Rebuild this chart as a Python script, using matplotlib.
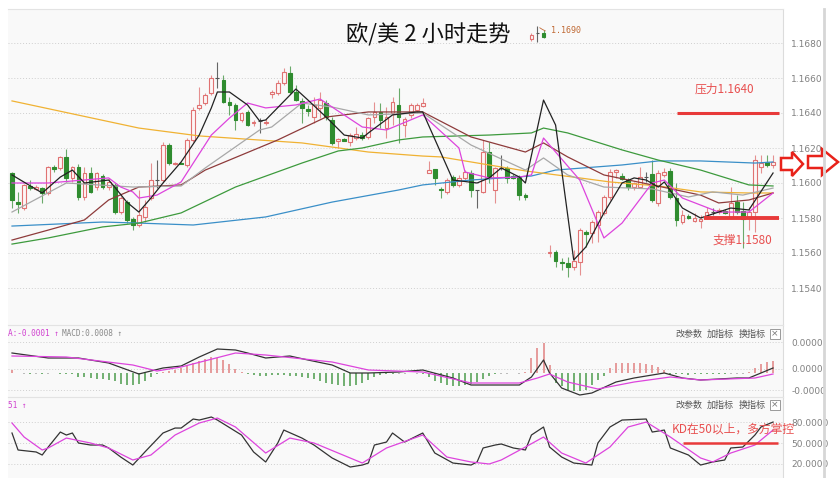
import numpy as np
import matplotlib
matplotlib.use("Agg")
import matplotlib.pyplot as plt
from matplotlib.patches import Polygon, Rectangle
from matplotlib.lines import Line2D

plt.rcParams['font.family'] = ['Noto Sans CJK SC', 'DejaVu Sans']

# ---- 2h EUR/USD candles (bar 0 .. 126) ----
opens = [1.16057, 1.15891, 1.15857, 1.15983, 1.15966, 1.15971, 1.15943, 1.16091, 1.16086, 1.16149,
         1.16029, 1.16091, 1.15920, 1.16057, 1.15977, 1.16040, 1.15977, 1.15989, 1.15834, 1.15891,
         1.15794, 1.15760, 1.15806, 1.15914, 1.16017, 1.16017, 1.16217, 1.16109, 1.16114, 1.16103,
         1.16246, 1.16429, 1.16457, 1.16514, 1.16600, 1.16589, 1.16463, 1.16446, 1.16360, 1.16406,
         1.16343, 1.16354, 1.16343, 1.16509, 1.16514, 1.16571, 1.16629, 1.16520, 1.16469, 1.16423,
         1.16377, 1.16429, 1.16457, 1.16360, 1.16240, 1.16251, 1.16234, 1.16257, 1.16274, 1.16263,
         1.16377, 1.16406, 1.16314, 1.16400, 1.16446, 1.16331, 1.16389, 1.16417, 1.16440, 1.16057,
         1.16080, 1.15966, 1.15949, 1.16034, 1.15989, 1.16029, 1.16057, 1.15960, 1.15949, 1.16177,
         1.15960, 1.16086, 1.16086, 1.16040, 1.16034, 1.15931, 1.16823, 1.16857, 1.16857, 1.15600,
         1.15606, 1.15549, 1.15543, 1.15520, 1.15549, 1.15720, 1.15714, 1.15760, 1.15829, 1.15920,
         1.16063, 1.16040, 1.16017, 1.15977, 1.15977, 1.16034, 1.16051, 1.15886, 1.16046, 1.16069,
         1.15914, 1.15777, 1.15811, 1.15783, 1.15783, 1.15806, 1.15834, 1.15834, 1.15840, 1.15806,
         1.15891, 1.15840, 1.15800, 1.15834, 1.16091, 1.16120, 1.16103]
highs = [1.16063, 1.15949, 1.15994, 1.16017, 1.15989, 1.15977, 1.16097, 1.16103, 1.16154, 1.16194,
         1.16097, 1.16109, 1.16091, 1.16091, 1.16063, 1.16051, 1.16029, 1.16000, 1.15926, 1.15903,
         1.15806, 1.15960, 1.15903, 1.16114, 1.16131, 1.16234, 1.16229, 1.16120, 1.16120, 1.16257,
         1.16434, 1.16549, 1.16514, 1.16617, 1.16691, 1.16617, 1.16491, 1.16457, 1.16406, 1.16417,
         1.16360, 1.16371, 1.16366, 1.16531, 1.16589, 1.16657, 1.16669, 1.16560, 1.16486, 1.16446,
         1.16491, 1.16520, 1.16474, 1.16377, 1.16257, 1.16257, 1.16286, 1.16320, 1.16291, 1.16377,
         1.16463, 1.16457, 1.16434, 1.16491, 1.16543, 1.16377, 1.16457, 1.16457, 1.16486, 1.16126,
         1.16080, 1.15977, 1.16029, 1.16046, 1.16046, 1.16074, 1.16074, 1.15960, 1.16246, 1.16234,
         1.16091, 1.16160, 1.16097, 1.16051, 1.16046, 1.15943, 1.16857, 1.16897, 1.16874, 1.15646,
         1.15617, 1.15571, 1.15577, 1.15617, 1.15743, 1.15731, 1.15789, 1.15846, 1.15931, 1.16080,
         1.16080, 1.16057, 1.16029, 1.16006, 1.16091, 1.16063, 1.16131, 1.16074, 1.16086, 1.16086,
         1.16000, 1.15846, 1.15823, 1.15829, 1.15817, 1.15863, 1.15857, 1.15857, 1.15851, 1.15977,
         1.15931, 1.15891, 1.15863, 1.16160, 1.16160, 1.16160, 1.16160]
lows = [1.15857, 1.15829, 1.15846, 1.15960, 1.15960, 1.15886, 1.15931, 1.16063, 1.16074, 1.16006,
        1.16006, 1.15903, 1.15903, 1.15943, 1.15960, 1.15966, 1.15960, 1.15823, 1.15823, 1.15771,
        1.15731, 1.15749, 1.15777, 1.15903, 1.15971, 1.16006, 1.16103, 1.16103, 1.16109, 1.16091,
        1.16234, 1.16417, 1.16446, 1.16503, 1.16543, 1.16457, 1.16389, 1.16303, 1.16349, 1.16326,
        1.16326, 1.16286, 1.16331, 1.16486, 1.16503, 1.16560, 1.16509, 1.16469, 1.16343, 1.16383,
        1.16343, 1.16371, 1.16360, 1.16217, 1.16200, 1.16240, 1.16211, 1.16246, 1.16246, 1.16251,
        1.16343, 1.16314, 1.16257, 1.16331, 1.16229, 1.16263, 1.16371, 1.16406, 1.16434, 1.16057,
        1.15989, 1.15914, 1.15937, 1.15977, 1.15977, 1.16017, 1.15920, 1.15857, 1.15943, 1.16000,
        1.15886, 1.16074, 1.16000, 1.16023, 1.15903, 1.15903, 1.16811, 1.16806, 1.16829, 1.15577,
        1.15520, 1.15503, 1.15463, 1.15503, 1.15474, 1.15634, 1.15657, 1.15663, 1.15817, 1.15903,
        1.16029, 1.16017, 1.15960, 1.15960, 1.15971, 1.16006, 1.15891, 1.15869, 1.16034, 1.15909,
        1.15754, 1.15766, 1.15794, 1.15777, 1.15743, 1.15794, 1.15817, 1.15823, 1.15823, 1.15794,
        1.15823, 1.15629, 1.15731, 1.15720, 1.16057, 1.16091, 1.16086]
closes = [1.15903, 1.15880, 1.15989, 1.15971, 1.15977, 1.15943, 1.16091, 1.16080, 1.16149, 1.16029,
          1.16091, 1.15920, 1.16057, 1.15949, 1.16057, 1.15977, 1.16006, 1.15834, 1.15914, 1.15789,
          1.15760, 1.15817, 1.15863, 1.16017, 1.16017, 1.16217, 1.16114, 1.16114, 1.16109, 1.16246,
          1.16417, 1.16446, 1.16503, 1.16600, 1.16600, 1.16463, 1.16446, 1.16360, 1.16400, 1.16331,
          1.16349, 1.16354, 1.16349, 1.16520, 1.16571, 1.16634, 1.16520, 1.16474, 1.16429, 1.16411,
          1.16446, 1.16474, 1.16377, 1.16229, 1.16251, 1.16240, 1.16274, 1.16280, 1.16257, 1.16371,
          1.16406, 1.16360, 1.16377, 1.16463, 1.16377, 1.16366, 1.16446, 1.16446, 1.16457, 1.16074,
          1.16029, 1.15960, 1.16017, 1.15989, 1.16029, 1.16063, 1.15960, 1.15960, 1.16177, 1.16029,
          1.16086, 1.16086, 1.16029, 1.16029, 1.15931, 1.15920, 1.16846, 1.16857, 1.16834, 1.15606,
          1.15554, 1.15543, 1.15520, 1.15554, 1.15731, 1.15709, 1.15777, 1.15834, 1.15920, 1.16063,
          1.16074, 1.16023, 1.15977, 1.16000, 1.16034, 1.16034, 1.15903, 1.16057, 1.16063, 1.15920,
          1.15789, 1.15817, 1.15800, 1.15800, 1.15794, 1.15834, 1.15834, 1.15846, 1.15829, 1.15886,
          1.15834, 1.15794, 1.15834, 1.16131, 1.16114, 1.16103, 1.16120]

# ---- moving averages, read at selected bars ----
ma5_bar = [0, 5, 8, 10, 12, 16, 17, 19, 21, 23, 25, 28, 31, 33, 34, 36, 39, 41, 42, 47,
           49, 52, 55, 58, 59, 63, 67, 68, 73, 77, 79, 81, 84, 85, 88, 90, 93, 95, 98, 101,
           103, 105, 107, 108, 111, 114, 117, 119, 122, 126]
ma5 = [1.16046, 1.15943, 1.16034, 1.16074, 1.16000, 1.16017, 1.15977, 1.15891, 1.15834, 1.15914,
       1.16000, 1.16120, 1.16274, 1.16429, 1.16520, 1.16520, 1.16446, 1.16354, 1.16360, 1.16537,
       1.16474, 1.16377, 1.16274, 1.16257, 1.16286, 1.16389, 1.16406, 1.16406, 1.16017, 1.16000,
       1.16029, 1.16086, 1.16034, 1.16000, 1.16474, 1.16331, 1.15560, 1.15634, 1.15829, 1.16000,
       1.16029, 1.16017, 1.15977, 1.16006, 1.15857, 1.15800, 1.15834, 1.15857, 1.15846, 1.16057]
ma10_bar = [0, 6, 16, 18, 20, 21, 24, 28, 33, 36, 39, 42, 47, 51, 53, 58, 62, 68, 74, 75,
            79, 84, 86, 88, 94, 98, 101, 106, 108, 111, 117, 122, 126]
ma10 = [1.16000, 1.16000, 1.16029, 1.15977, 1.15949, 1.15914, 1.15931, 1.16006, 1.16274, 1.16371,
        1.16457, 1.16429, 1.16446, 1.16480, 1.16434, 1.16320, 1.16303, 1.16389, 1.16200, 1.16063,
        1.16029, 1.16034, 1.16046, 1.16257, 1.16017, 1.15686, 1.15771, 1.16000, 1.16017, 1.15914,
        1.15834, 1.15834, 1.15943]
ma20_bar = [0, 9, 20, 28, 32, 41, 43, 48, 53, 59, 68, 76, 85, 88, 92, 98, 106, 112, 116, 121, 126]
ma20 = [1.15834, 1.16000, 1.15977, 1.15983, 1.16086, 1.16303, 1.16320, 1.16457, 1.16434, 1.16389,
        1.16400, 1.16217, 1.16074, 1.16143, 1.16046, 1.15977, 1.15966, 1.15920, 1.15949, 1.15931,
        1.15971]
ma30_bar = [0, 6, 12, 16, 21, 28, 32, 44, 52, 59, 68, 76, 85, 88, 92, 98, 106, 114, 117, 122, 126]
ma30 = [1.15674, 1.15731, 1.15789, 1.15903, 1.15977, 1.15989, 1.16074, 1.16246, 1.16377, 1.16406,
        1.16406, 1.16263, 1.16177, 1.16229, 1.16149, 1.16046, 1.15989, 1.15931, 1.15886, 1.15903,
        1.15943]
ma60_bar = [0, 6, 15, 21, 28, 37, 48, 54, 58, 64, 68, 79, 86, 88, 92, 101, 107, 114, 122, 126]
ma60 = [1.15651, 1.15686, 1.15749, 1.15771, 1.15829, 1.15977, 1.16114, 1.16183, 1.16200, 1.16246,
        1.16263, 1.16274, 1.16286, 1.16314, 1.16286, 1.16189, 1.16131, 1.16074, 1.15989, 1.15983]
ma120_bar = [0, 21, 31, 48, 59, 68, 71, 79, 85, 94, 99, 107, 114, 122, 126]
ma120 = [1.16469, 1.16314, 1.16269, 1.16229, 1.16177, 1.16154, 1.16149, 1.16103, 1.16069, 1.16029,
         1.16006, 1.15983, 1.15949, 1.15943, 1.15943]
ma250_bar = [0, 15, 21, 30, 42, 53, 64, 68, 76, 86, 90, 101, 107, 114, 123, 126]
ma250 = [1.15754, 1.15777, 1.15771, 1.15760, 1.15806, 1.15891, 1.15960, 1.15989, 1.16017, 1.16040,
         1.16074, 1.16103, 1.16126, 1.16126, 1.16114, 1.16120]

# ---- MACD (units of 1e-6) ----
dif_bar = [0, 6, 11, 16, 21, 25, 28, 31, 34, 37, 39, 42, 46, 49, 53, 56, 59, 64, 68, 73,
           76, 81, 84, 86, 88, 89, 91, 94, 96, 100, 103, 108, 111, 114, 120, 122, 124, 126]
dif = [20, 15, 15, 10, -1, 5, 7, 16, 24, 23, 20, 15, 17, 13, 8, 0, 0, 1, 3, -5,
       -12, -12, -12, -4, 13, 0, -15, -22, -20, -9, -5, 0, -5, -7, -5, -5, 0, 5]
dea_bar = [0, 9, 20, 24, 28, 37, 42, 53, 59, 68, 76, 84, 87, 89, 92, 97, 103, 109, 114, 123, 126]
dea = [17, 16, 8, 2, 6, 20, 18, 11, 3, 1, -10, -10, -5, -1, -9, -16, -9, -4, -7, -5, -1]
macd_hist = [3, 0.5, -0.5, -1, -0.5, -1, -0.5, 0.5, -1, -1,
             -1, -4, -4, -5, -6, -6, -7, -8, -11, -12,
             -12, -11, -8, -4, -1, 1, 2, 3, 5, 7,
             10, 12, 14, 16, 15, 13, 9, 4, 1, -1,
             -2, -3, -3, -2, -2, -2, -3, -3, -4, -5,
             -6, -8, -10, -11, -12, -13, -13, -12, -10, -7,
             -4, -2, -1, -1, -0.5, -0.5, 0.5, -0.5, -1, -4,
             -8, -10, -12, -13, -13, -12, -11, -9, -6, -3,
             -1, -0.5, -0.5, 0.5, -0.5, 1, 15, 25, 30, 8,
             -10, -13, -17, -18, -18, -17, -12, -7, -3, 5,
             10, 10, 10, 10, 10, 9, 8, 6, 3, -1,
             -1, -1, -1.5, -1, -1, -1, -1, -1, -1, -0.5,
             -0.5, -0.5, 1, 5, 9, 11, 12]

# ---- KD ----
k_bar = [0, 1, 4, 5, 6, 8, 9, 10, 11, 13, 15, 16, 18, 20, 22, 25, 27, 28, 30, 31,
         33, 34, 38, 40, 42, 44, 45, 48, 50, 53, 56, 58, 59, 60, 62, 63, 65, 68, 70, 73,
         76, 77, 78, 80, 81, 83, 85, 86, 88, 89, 91, 93, 96, 97, 99, 101, 105, 106, 108, 109,
         112, 114, 116, 118, 119, 121, 123, 124, 126]
k_val = [64.5, 39.9, 37, 32.6, 44.2, 65.9, 61.6, 64.5, 50, 47.1, 47.1, 42.8, 29.7, 18.1, 37, 64.5, 71.7, 71.7, 84.8, 83.3,
         87.7, 83.3, 61.6, 37, 22.5, 50, 68.8, 57.2, 47.1, 28.3, 15.2, 18.1, 21, 47.1, 51.4, 64.5, 51.4, 64.5, 35.5, 21,
         18.1, 22.5, 42.8, 47.1, 48.6, 42.8, 39.9, 61.6, 73.2, 44.2, 29.7, 21, 18.1, 50, 73.2, 83.3, 84.8, 65.9, 68.8, 42.8,
         32.6, 18.1, 22.5, 25.4, 42.8, 44.2, 61.6, 73.2, 80.4]
d_bar = [0, 2, 5, 6, 9, 13, 16, 20, 23, 27, 31, 34, 37, 42, 46, 50, 58, 62, 68, 72,
         76, 79, 81, 85, 88, 91, 95, 99, 102, 105, 109, 114, 116, 119, 123, 126]
d_val = [79, 58.7, 39.9, 42.8, 57.2, 50, 42.8, 25.4, 32.6, 61.6, 79, 86.2, 73.2, 35.5, 57.2, 50, 21, 42.8, 61.6, 29.7,
         22.5, 19.6, 25.4, 44.2, 58.7, 35.5, 21, 44.2, 73.2, 80.4, 58.7, 28.3, 22.5, 35.5, 47.1, 68.8]

price_ticks = [1.1540, 1.1560, 1.1580, 1.1600, 1.1620, 1.1640, 1.1660, 1.1680]
macd_ticks = [31e-6, 4e-6, -17e-6]
kd_ticks = [20, 50, 80]

# ---------------------------------------------------------------------------
W, H = 840, 478
fig = plt.figure(figsize=(W / 100, H / 100), dpi=100)
fig.patch.set_facecolor('white')


def fx(x):
    return x / W


def fy(y):
    return 1 - y / H


L, R = 8, 783
ax = fig.add_axes([fx(L), fy(325), (R - L) / W, (325 - 9) / H])
ax_m = fig.add_axes([fx(L), fy(397), (R - L) / W, (397 - 325) / H])
ax_k = fig.add_axes([fx(L), fy(478), (R - L) / W, (478 - 397) / H])

xlim = ((L - 12) / 6.04, (R - 12) / 6.04)
for a in (ax, ax_m, ax_k):
    a.set_facecolor('#f9f9f9')
    a.set_xlim(*xlim)
    a.set_xticks([])
    a.yaxis.tick_right()
    a.tick_params(axis='y', length=0, pad=6, labelsize=6.5, labelcolor='#808080')
    for lab in a.get_yticklabels():
        lab.set_family('DejaVu Sans')
    a.spines['left'].set_visible(False)
    a.spines['bottom'].set_visible(False)
    a.spines['top'].set_color('#e3e3e3')
    a.spines['right'].set_color('#dcdcdc')
    a.grid(axis='y', linestyle=(0, (1, 2)), color='#cfcfcf', lw=0.7)
    a.set_axisbelow(True)

# ---- main candles ----
ax.set_ylim(1.1680 - 282 / 17500, 1.1680 + 34 / 17500)
ax.set_yticks(price_ticks)
ax.set_yticklabels([f"{t:.4f}" for t in price_ticks], family='DejaVu Sans')

for i in range(len(opens)):
    o, h, l, c = opens[i], highs[i], lows[i], closes[i]
    if c > o:
        edge, face, wick = '#e07272', '#fdf6f6', '#e59090'
    elif c < o:
        edge, face, wick = '#2f8c2f', '#2f8c2f', '#6aaa6a'
    else:
        edge, face, wick = '#555555', '#555555', '#666666'
    ax.vlines(i, l, h, color=wick, lw=0.8, zorder=2)
    ax.bar(i, max(abs(c - o), 0.00002), bottom=min(o, c), width=0.62,
           facecolor=face, edgecolor=edge, lw=0.8, zorder=3)

ax.plot(ma250_bar, ma250, color='#3a8fc8', lw=0.9, zorder=4)
ax.plot(ma120_bar, ma120, color='#f0b233', lw=0.9, zorder=4)
ax.plot(ma60_bar, ma60, color='#3d9a3d', lw=0.9, zorder=4)
ax.plot(ma30_bar, ma30, color='#8e3b3b', lw=0.9, zorder=4)
ax.plot(ma20_bar, ma20, color='#a8a8a8', lw=0.9, zorder=4)
ax.plot(ma10_bar, ma10, color='#dd44dd', lw=0.9, zorder=4)
ax.plot(ma5_bar, ma5, color='#222222', lw=0.9, zorder=5)

ax.annotate('1.1690', xy=(87, 1.16897), xytext=(89.2, 1.16872), fontsize=6,
            color='#c06a35', va='center', ha='left', family='DejaVu Sans Mono',
            arrowprops=dict(arrowstyle='-', color='#c06a35', lw=0.6,
                            connectionstyle='arc3,rad=-0.3'))

# support / resistance
ax.hlines(1.1640, 110.1, 127.0, color='#e83a3a', lw=2.2, zorder=6)
ax.text(118.0, 1.16537, '压力1.1640', ha='center', va='center', color='#e85050', fontsize=8.5)
ax.hlines(1.1580, 114.6, 127.0, color='#e83a3a', lw=2.8, zorder=6)
ax.text(121.0, 1.15674, '支撑1.1580', ha='center', va='center', color='#e85050', fontsize=8.5)

# ---- MACD ----
ax_m.set_ylim(-24e-6, 48e-6)
ax_m.set_yticks(macd_ticks)
ax_m.set_yticklabels([f"{t:.4f}" for t in macd_ticks], family='DejaVu Sans')
hist = np.array(macd_hist) * 1e-6
cols = ['#b0b0b0' if abs(v) < 1e-6 else ('#e38b8b' if v > 0 else '#5aa35a') for v in hist]
ax_m.vlines(np.arange(len(hist)), 0, hist, colors=cols, lw=1.2, zorder=2)
ax_m.plot(dif_bar, np.array(dif) * 1e-6, color='#333333', lw=0.9, zorder=3)
ax_m.plot(dea_bar, np.array(dea) * 1e-6, color='#dd44dd', lw=0.9, zorder=3)

# ---- KD ----
ax_k.set_ylim(-0.7, 116.7)
ax_k.set_yticks(kd_ticks)
ax_k.set_yticklabels([f"{t:.4f}" for t in kd_ticks], family='DejaVu Sans')
ax_k.plot(k_bar, k_val, color='#333333', lw=0.9, zorder=3)
ax_k.plot(d_bar, d_val, color='#dd44dd', lw=0.9, zorder=3)
ax_k.hlines(50, 111.1, 126.8, color='#e83a3a', lw=1.8, zorder=4)
ax_k.text(119.4, 70.5, 'KD在50以上，多方掌控', ha='center', va='center',
          color='#e85050', fontsize=8.5, zorder=5)

# ---- title and panel headers ----
fig.text(fx(428), fy(35), '欧/美 2 小时走势', fontsize=16, ha='center', va='center', color='#111111')

fig.text(fx(8), fy(334), 'A:-0.0001 ↑', fontsize=5.6, color='#d040d0', va='center',
         family=['DejaVu Sans Mono', 'DejaVu Sans'])
fig.text(fx(62), fy(334), 'MACD:0.0008 ↑', fontsize=5.6, color='#888888', va='center',
         family=['DejaVu Sans Mono', 'DejaVu Sans'])
fig.text(fx(8), fy(405), '51 ↑', fontsize=5.6, color='#d040d0', va='center',
         family=['DejaVu Sans Mono', 'DejaVu Sans'])

for yy in (334, 405):
    for xx, s in zip((675, 707, 739), ('改参数', '加指标', '换指标')):
        fig.text(fx(xx), fy(yy), s, fontsize=6.5, color='#555555', va='center')
    fig.add_artist(Rectangle((fx(770), fy(yy + 5)), 10 / W, 10 / H, transform=fig.transFigure,
                             facecolor='white', edgecolor='#999999', lw=0.7))
    fig.text(fx(775), fy(yy), '×', fontsize=6.5, color='#777777', ha='center', va='center',
             family='DejaVu Sans')

# right scroll rail
fig.add_artist(Line2D([fx(824), fx(824)], [fy(9), fy(478)], color='#d6d6d6', lw=2))

# red hollow arrows on the right edge
arrow1 = [(781, 158), (792, 158), (792, 152), (803, 164), (792, 176), (792, 170), (781, 170)]
arrow2 = [(808, 156), (822, 156), (822, 149), (838, 162), (822, 175), (822, 168), (808, 168)]
for pts in (arrow1, arrow2):
    fig.add_artist(Polygon([(fx(x), fy(y)) for x, y in pts], closed=True, transform=fig.transFigure,
                           facecolor='white', edgecolor='#e8221a', lw=1.8))

fig.savefig('out.png', dpi=100)
